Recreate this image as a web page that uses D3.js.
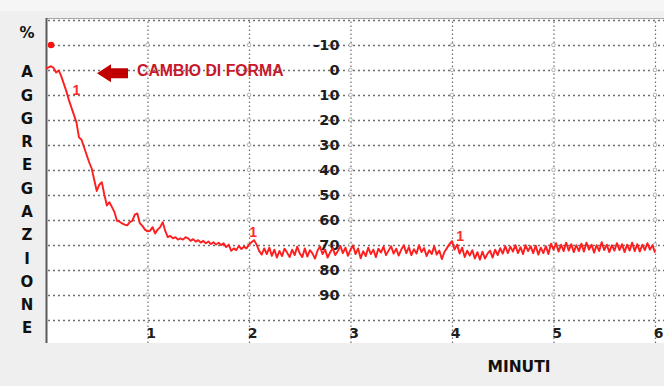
<!DOCTYPE html>
<html><head><meta charset="utf-8">
<script src="https://cdn.jsdelivr.net/npm/d3@7"></script>
<style>html,body{margin:0;padding:0;background:#efefef;}svg{display:block;}</style>
</head><body>
<script>
// ---- data ----
const timeStep = 0.025; // minutes between samples
const aggregation = [
 -0.5,-1.0,-1.5,-0.8,1.0,0.2,2.5,5.5,8.5,12,15,18,21,
 27,28,31,34,37,39.5,44,48.5,46,45,50,54.3,53,55,57,60.5,60.8,61.5,62,62.3,61,60.5,58,57.5,61.5,62.5,64,64.7,
 64.5,63,65.5,64,63,61,64.5,67,66.5,67.5,67,68,67.5,68,67,67.5,68.5,67.8,68.8,68.2,69.2,68.5,69.5,68.7,69.8,69,70,69.2,70.2,69.5,71,70,72.5,71.5,72.2,70.5,71.8,70.8,71.5,70,
 69,68.2,70,72.5,74,71.5,73.8,71.2,74.5,72,75.2,72.5,74.6,71.6,73.2,75,72,74.2,70.8,73.5,75,71.5,74.8,72.2,73.5,75.6,72.4,70.8,73.8,72,75.2,73,71.5,74.2,72.6,70.5,73.4,71.2,74.5,72,
 70.4,73.8,71.5,75.5,72.6,74.6,71.2,73.8,72,75,71.6,73.2,70.8,74.2,72.4,70.6,73.6,71.6,74.4,72,70.2,73.4,71,74.2,71.8,73.6,70.2,73,71.4,74.6,72.2,73.8,70.6,74,72.4,75.8,73,71.4,69.8,68.6,
 72,70,73.6,71.2,75,72.4,74.4,72.2,75.6,73,76,72.8,75.6,73.6,72.4,75.2,72,74.2,71.4,73.6,70.6,73.4,70.8,72.8,70.2,73.4,71,73.8,70.2,72.6,70.6,73.4,70.4,74,71.2,73.4,70.6,73.8,69.6,72,
 69.4,72.8,70,72.6,69.2,72.4,69.8,73,70.2,72.6,69.6,72.8,69.2,72,70,73.2,70.2,72.6,69,72.2,70,73,70.2,72.4,69.4,72.2,69.8,73,70,72.4,69.2,72.6,69.8,72.8,70,72.2,69.4,72,70.2,73.2
];
const xTicks = [1,2,3,4,5,6];
const yTicks = [-10,0,10,20,30,40,50,60,70,80,90];
const yGrid = [-20,-10,0,10,20,30,40,50,60,70,80,90,100];
const axisLetters = ["A","G","G","R","E","G","A","Z","I","O","N","E"];
const markerLabels = [{t:0.30,v:8.2,text:"1"},{t:2.04,v:64.8,text:"1"},{t:4.08,v:66.6,text:"1"}];
const startMarker = {t:0.05, v:-10};
const annotation = "CAMBIO DI FORMA";
const xTitle = "MINUTI";

// ---- layout ----
const W = 664, H = 386;
const plot = {left:46, right:664, top:18, bottom:343};
const x = d3.scaleLinear().domain([0,6]).range([46,655]);
const y = d3.scaleLinear().domain([-20,100]).range([20,319.5]);

const svg = d3.select("body").append("svg").attr("width",W).attr("height",H);
svg.append("rect").attr("width",W).attr("height",H).attr("fill","#efefef");
svg.append("rect").attr("width",W).attr("height",11).attr("fill","#f6f6f6");
svg.append("rect").attr("x",plot.left).attr("y",plot.top)
  .attr("width",plot.right-plot.left).attr("height",plot.bottom-plot.top).attr("fill","#ffffff");

// horizontal grid
svg.append("g").selectAll("line").data(yGrid).join("line")
  .attr("x1",plot.left+2).attr("x2",plot.right)
  .attr("y1",d=>Math.round(y(d))+0.5).attr("y2",d=>Math.round(y(d))+0.5)
  .attr("stroke","#6e6e6e").attr("stroke-width",1.3).attr("stroke-dasharray","2,3");

// vertical grid via axis
const vg = svg.append("g").attr("transform",`translate(0,${plot.bottom})`)
  .call(d3.axisBottom(x).tickValues(xTicks).tickSize(-(plot.bottom-plot.top)).tickFormat(""));
vg.select(".domain").remove();
vg.selectAll(".tick line").attr("stroke","#6e6e6e").attr("stroke-width",1.2).attr("stroke-dasharray","1.5,2.5");

// small circles at crossings of vertical grid with horizontals
const cross = [];
xTicks.forEach(t=>yGrid.slice(1,12).forEach(v=>cross.push({t,v})));
svg.append("g").selectAll("circle").data(cross).join("circle")
  .attr("cx",d=>x(d.t)).attr("cy",d=>y(d.v)).attr("r",1.8)
  .attr("fill","#fff").attr("stroke","#a0a0a0").attr("stroke-width",0.8);

// borders
svg.append("line").attr("x1",plot.left).attr("x2",plot.right).attr("y1",plot.top+0.5).attr("y2",plot.top+0.5)
  .attr("stroke","#a8a8a8");
svg.append("line").attr("x1",plot.left+0.5).attr("x2",plot.left+0.5).attr("y1",plot.top).attr("y2",plot.bottom)
  .attr("stroke","#5a5a5a").attr("stroke-width",2);

// y tick labels in middle of chart
const ya = svg.append("g").attr("transform",`translate(${x(3)-11},0)`)
  .call(d3.axisLeft(y).tickValues(yTicks).tickSize(0).tickPadding(0).tickFormat(d=>String(d)));
ya.select(".domain").remove();
ya.selectAll("text").attr("font-family","DejaVu Sans").attr("font-weight","bold")
  .attr("font-size","14.5px").attr("fill","#1e1e1e");

// x tick labels
const xa = svg.append("g").attr("transform",`translate(0,${y(100)})`)
  .call(d3.axisBottom(x).tickValues(xTicks).tickSize(0).tickPadding(9).tickFormat(d3.format("d")));
xa.select(".domain").remove();
xa.selectAll("text").attr("dx",3).attr("font-family","DejaVu Sans").attr("font-weight","bold")
  .attr("font-size","14px").attr("fill","#1e1e1e");

// data line
const line = d3.line().x((d,i)=>x(i*timeStep)).y(d=>y(d));
svg.append("path").datum(aggregation).attr("d",line)
  .attr("fill","none").attr("stroke","#ff1e1e").attr("stroke-width",1.9).attr("stroke-linejoin","round");

// start marker
svg.append("circle").attr("cx",x(startMarker.t)).attr("cy",y(startMarker.v)).attr("r",3.3).attr("fill","#ff1010");

// marker labels
svg.append("g").selectAll("text").data(markerLabels).join("text")
  .attr("x",d=>x(d.t)).attr("y",d=>y(d.v)).attr("text-anchor","middle").attr("dy","0.36em")
  .attr("font-family","Liberation Sans").attr("font-weight","bold").attr("font-size","14px")
  .attr("fill","#ff2a2a").text(d=>d.text);

// annotation arrow + text
const ay = 73.3;
svg.append("path").attr("fill","#c00000")
  .attr("d",`M97,${ay} L111,${ay-9} L111,${ay-5} L128,${ay-5} L128,${ay+5} L111,${ay+5} L111,${ay+9} Z`);
svg.append("text").attr("x",137).attr("y",76).attr("font-family","Liberation Sans").attr("font-weight","bold")
  .attr("font-size","15.8px").attr("fill","#c8182a").text(annotation);

// left vertical title
svg.append("text").attr("x",27).attr("y",33).attr("dy","0.36em").attr("text-anchor","middle")
  .attr("font-family","DejaVu Sans").attr("font-weight","bold").attr("font-size","15px").attr("fill","#111").text("%");
svg.append("g").selectAll("text").data(axisLetters).join("text")
  .attr("x",27).attr("y",(d,i)=>72+i*23.27).attr("dy","0.36em").attr("text-anchor","middle")
  .attr("font-family","DejaVu Sans").attr("font-weight","bold").attr("font-size","15px").attr("fill","#111")
  .text(d=>d);

// x title
svg.append("text").attr("x",519).attr("y",372).attr("text-anchor","middle")
  .attr("font-family","DejaVu Sans").attr("font-weight","bold").attr("font-size","15.5px").attr("fill","#111")
  .text(xTitle);
</script>
</body></html>
